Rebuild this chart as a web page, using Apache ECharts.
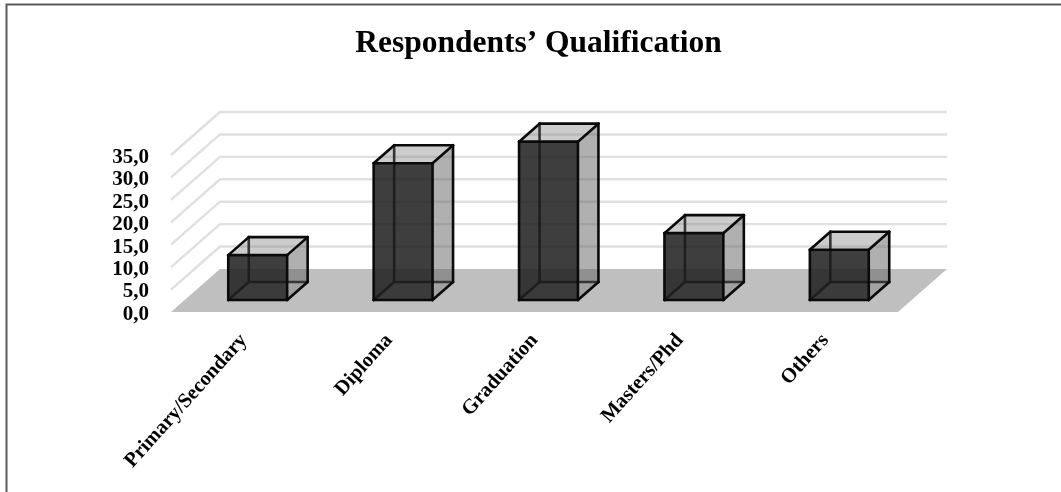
<!DOCTYPE html>
<html>
<head>
<meta charset="utf-8">
<style>
html, body { margin: 0; padding: 0; background: #fff; }
#chart { width: 1061px; height: 492px; }
</style>
<script src="https://cdn.jsdelivr.net/npm/echarts@6/dist/echarts.min.js"></script>
</head>
<body>
<div id="chart"></div>
<script>
// Survey results: share of respondents by highest qualification.
const categories = ['Primary/Secondary', 'Diploma', 'Graduation', 'Masters/Phd', 'Others'];
const values = [10.0, 30.5, 35.3, 14.9, 11.2];
const yTicks = [0, 5, 10, 15, 20, 25, 30, 35];

// Oblique projection of the chart box and of each column, in pixels.
const FLOOR_DX = 49, FLOOR_DY = -43;
const BAR_DX = 20.5, BAR_DY = -18;
const BAR_INSET_DX = 14, BAR_INSET_DY = -12;
const BAR_WIDTH_RATIO = 0.405;

const serif = '"Liberation Serif", "Times New Roman", serif';
const chart = echarts.init(document.getElementById('chart'), null, { renderer: 'canvas' });

function poly(points, fill) {
  return { type: 'polygon', shape: { points }, style: { fill, stroke: null } };
}
function edge(a, b) {
  return {
    type: 'line',
    shape: { x1: a[0], y1: a[1], x2: b[0], y2: b[1] },
    style: { stroke: '#0a0a0a', lineWidth: 2.6, lineCap: 'round' }
  };
}

function renderWalls(params, api) {
  const v = api.value(0);
  const left = params.coordSys.x;
  const right = left + params.coordSys.width;
  const y = api.coord([0, v])[1];
  const children = [];
  if (v === 0) {
    children.push(poly([
      [left, y], [right, y], [right + FLOOR_DX, y + FLOOR_DY], [left + FLOOR_DX, y + FLOOR_DY]
    ], '#bfbfbf'));
  } else {
    children.push({
      type: 'polyline',
      shape: { points: [[left, y], [left + FLOOR_DX, y + FLOOR_DY], [right + FLOOR_DX, y + FLOOR_DY]] },
      style: { stroke: '#e0e0e0', lineWidth: 2.4, fill: null }
    });
  }
  return { type: 'group', children };
}

function renderBar(params, api) {
  const center = api.coord([api.value(0), 0]);
  const top = api.coord([api.value(0), api.value(1)]);
  const w = api.size([1, 0])[0] * BAR_WIDTH_RATIO;
  const x0 = center[0] + BAR_INSET_DX - w / 2, x1 = x0 + w;
  const yb = center[1] + BAR_INSET_DY, yt = top[1] + BAR_INSET_DY;
  const dx = BAR_DX, dy = BAR_DY;
  return {
    type: 'group',
    children: [
      poly([[x0, yb], [x1, yb], [x1 + dx, yb + dy], [x0 + dx, yb + dy]], 'rgba(255,255,255,0.55)'),
      edge([x0 + dx, yb + dy], [x0 + dx, yt + dy]),
      edge([x0 + dx, yb + dy], [x1 + dx, yb + dy]),
      edge([x0, yb], [x0 + dx, yb + dy]),
      poly([[x1, yb], [x1 + dx, yb + dy], [x1 + dx, yt + dy], [x1, yt]], 'rgba(97,97,97,0.5)'),
      poly([[x0, yt], [x1, yt], [x1 + dx, yt + dy], [x0 + dx, yt + dy]], 'rgba(120,120,120,0.38)'),
      poly([[x0, yb], [x1, yb], [x1, yt], [x0, yt]], 'rgba(33,33,33,0.87)'),
      edge([x0, yb], [x1, yb]),
      edge([x0, yt], [x1, yt]),
      edge([x0, yb], [x0, yt]),
      edge([x1, yb], [x1, yt]),
      edge([x1, yb], [x1 + dx, yb + dy]),
      edge([x1, yt], [x1 + dx, yt + dy]),
      edge([x0, yt], [x0 + dx, yt + dy]),
      edge([x0 + dx, yt + dy], [x1 + dx, yt + dy]),
      edge([x1 + dx, yb + dy], [x1 + dx, yt + dy])
    ]
  };
}

chart.setOption({
  animation: false,
  backgroundColor: '#ffffff',
  title: {
    text: 'Respondents\u2019 Qualification',
    left: 533.5, top: 23, textAlign: 'center',
    textStyle: { fontFamily: serif, fontSize: 31.5, fontWeight: 'bold', color: '#000' }
  },
  graphic: [{
    type: 'polyline',
    silent: true,
    shape: { points: [[6.5, 492], [6.5, 4.5], [1061, 4.5]] },
    style: { stroke: '#5a5a5a', lineWidth: 2, fill: null }
  }],
  grid: { left: 171, top: 155, width: 727, height: 157 },
  xAxis: {
    type: 'category',
    data: categories,
    axisLine: { show: false },
    axisTick: { show: false },
    axisLabel: {
      rotate: 48, interval: 0, margin: 25, color: '#000',
      fontFamily: serif, fontSize: 20.5, fontWeight: 'bold'
    }
  },
  yAxis: {
    type: 'value',
    min: 0, max: 35, interval: 5,
    axisLine: { show: false },
    axisTick: { show: false },
    splitLine: { show: false },
    axisLabel: {
      margin: 22, color: '#000',
      fontFamily: serif, fontSize: 21, fontWeight: 'bold',
      formatter: v => '{t|' + v.toFixed(1).replace('.', ',') + '}',
      rich: {
        t: {
          padding: [5, 0, 0, 0], color: '#000',
          fontFamily: serif, fontSize: 21, fontWeight: 'bold'
        }
      }
    }
  },
  series: [
    {
      type: 'custom', name: 'walls', silent: true, z: 1,
      renderItem: renderWalls,
      data: yTicks.map(v => [v]),
      encode: { y: 0 }
    },
    {
      type: 'custom', name: 'Qualification', silent: true, z: 2,
      renderItem: renderBar,
      data: values.map((v, i) => [i, v]),
      encode: { x: 0, y: 1 }
    }
  ]
});
</script>
</body>
</html>
